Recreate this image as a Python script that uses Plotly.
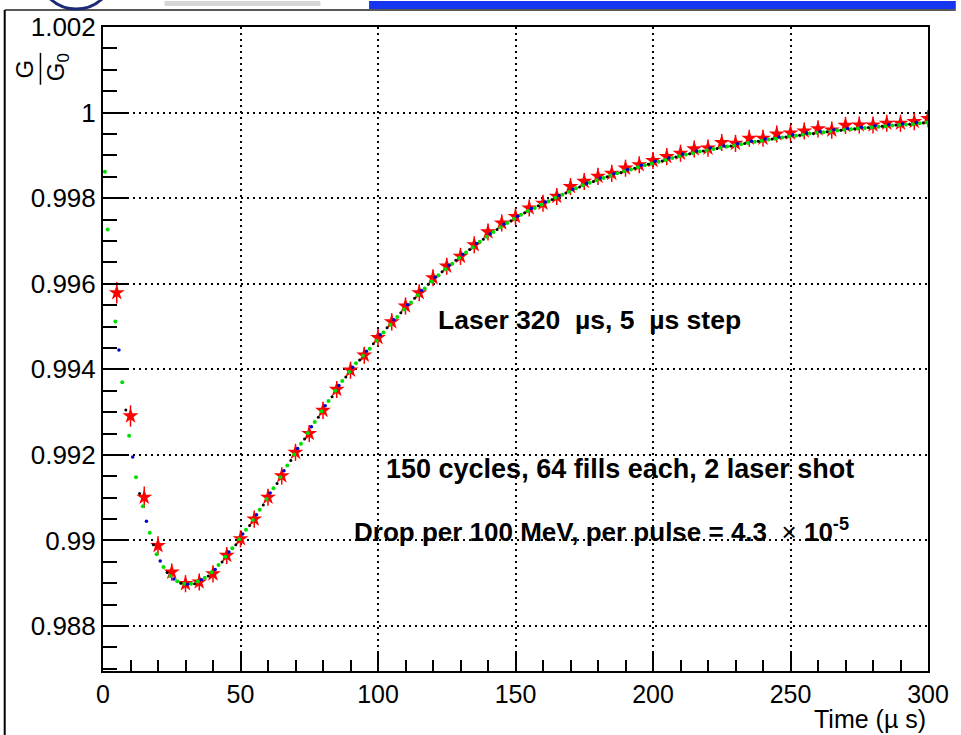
import plotly.graph_objects as go

# ---------------- data ----------------
x_ticks = [0, 50, 100, 150, 200, 250, 300]
y_tick_vals = [0.988, 0.990, 0.992, 0.994, 0.996, 0.998, 1.000, 1.002]
y_tick_text = ["0.988", "0.99", "0.992", "0.994", "0.996", "0.998", "1", "1.002"]

# red stars: laser 320 us, 5 us step (t = 5, 10, ..., 300)
star_t = [5, 10, 15, 20, 25, 30, 35, 40, 45, 50, 55, 60, 65, 70, 75, 80, 85, 90, 95, 100,
          105, 110, 115, 120, 125, 130, 135, 140, 145, 150, 155, 160, 165, 170, 175, 180,
          185, 190, 195, 200, 205, 210, 215, 220, 225, 230, 235, 240, 245, 250, 255, 260,
          265, 270, 275, 280, 285, 290, 295, 300]
star_g = [0.99579, 0.99291, 0.99101, 0.98988, 0.98926, 0.98899, 0.98903, 0.98922, 0.98965, 0.99004,
          0.99050, 0.99101, 0.99151, 0.99206, 0.99250, 0.99304, 0.99353, 0.99398, 0.99433, 0.99474,
          0.99511, 0.99548, 0.99579, 0.99614, 0.99641, 0.99664, 0.99691, 0.99721, 0.99742, 0.99757,
          0.99777, 0.99788, 0.99804, 0.99827, 0.99839, 0.99851, 0.99858, 0.99870, 0.99878, 0.99888,
          0.99897, 0.99905, 0.99915, 0.99917, 0.99930, 0.99928, 0.99940, 0.99940, 0.99950, 0.99952,
          0.99957, 0.99962, 0.99959, 0.99970, 0.99971, 0.99971, 0.99975, 0.99975, 0.99979, 0.99986]
star_err = [0.00025, 0.00025, 0.00025, 0.00022, 0.00020, 0.00020, 0.00020, 0.00020, 0.00020, 0.00020,
            0.00020, 0.00020, 0.00020, 0.00020, 0.00020, 0.00020, 0.00020, 0.00020, 0.00020, 0.00020,
            0.00020, 0.00020, 0.00020, 0.00020, 0.00020, 0.00020, 0.00020, 0.00020, 0.00020, 0.00020,
            0.00020, 0.00020, 0.00020, 0.00020, 0.00020, 0.00020, 0.00020, 0.00020, 0.00020, 0.00020,
            0.00020, 0.00020, 0.00020, 0.00020, 0.00020, 0.00020, 0.00020, 0.00020, 0.00020, 0.00020,
            0.00020, 0.00020, 0.00020, 0.00020, 0.00020, 0.00020, 0.00020, 0.00020, 0.00020, 0.00020]

# green dots
green_t = [0.7, 1.7, 4.5, 7.0, 9.5, 12.0, 14.5, 17.0, 19.5, 22.0, 24.5, 27.0, 29.5, 32.0, 34.5,
           37.0, 39.5, 42.0, 44.5, 47.0, 49.5, 52.0, 54.5, 57.0, 59.5, 62.0, 64.5, 67.0, 69.5,
           72.0, 74.5, 77.0, 79.5, 82.0, 84.5, 87.0, 89.5, 92.0, 94.5, 97.0, 99.5, 102.0, 104.5,
           107.0, 109.5, 112.0, 114.5, 117.0, 119.5, 122.0, 124.5, 127.0, 129.5, 132.0, 134.5,
           137.0, 139.5, 142.0, 144.5, 147.0, 149.5, 152.0, 154.5, 157.0, 159.5, 162.0, 164.5,
           167.0, 169.5, 172.0, 174.5, 177.0, 179.5, 182.0, 184.5, 187.0, 189.5, 192.0, 194.5,
           197.0, 199.5, 202.0, 204.5, 207.0, 209.5, 212.0, 214.5, 217.0, 219.5, 222.0, 224.5,
           227.0, 229.5, 232.0, 234.5, 237.0, 239.5, 242.0, 244.5, 247.0, 249.5, 252.0, 254.5,
           257.0, 259.5, 262.0, 264.5, 267.0, 269.5, 272.0, 274.5, 277.0, 279.5, 282.0, 284.5,
           287.0, 289.5, 292.0, 294.5, 297.0, 299.5]
green_g = [0.99862, 0.99727, 0.99512, 0.99370, 0.99245, 0.99148, 0.99080, 0.99018, 0.98968, 0.98938,
           0.98917, 0.98905, 0.98899, 0.98899, 0.98904, 0.98913, 0.98926, 0.98943, 0.98962, 0.98982,
           0.99003, 0.99025, 0.99048, 0.99072, 0.99097, 0.99122, 0.99148, 0.99175, 0.99201, 0.99226,
           0.99251, 0.99277, 0.99302, 0.99326, 0.99350, 0.99373, 0.99394, 0.99414, 0.99432, 0.99448,
           0.99467, 0.99486, 0.99504, 0.99522, 0.99540, 0.99556, 0.99573, 0.99589, 0.99605, 0.99620,
           0.99634, 0.99647, 0.99660, 0.99673, 0.99685, 0.99698, 0.99710, 0.99721, 0.99732, 0.99742,
           0.99752, 0.99761, 0.99770, 0.99777, 0.99785, 0.99793, 0.99801, 0.99808, 0.99815, 0.99823,
           0.99830, 0.99836, 0.99842, 0.99847, 0.99853, 0.99858, 0.99863, 0.99867, 0.99872, 0.99877,
           0.99881, 0.99885, 0.99889, 0.99894, 0.99898, 0.99902, 0.99905, 0.99909, 0.99912, 0.99915,
           0.99918, 0.99921, 0.99923, 0.99926, 0.99929, 0.99932, 0.99934, 0.99937, 0.99939, 0.99942,
           0.99944, 0.99946, 0.99948, 0.99951, 0.99953, 0.99954, 0.99956, 0.99958, 0.99960, 0.99961,
           0.99963, 0.99964, 0.99966, 0.99967, 0.99968, 0.99970, 0.99971, 0.99972, 0.99973, 0.99975,
           0.99977]

# blue dots
blue_t = [5.8, 10.8, 15.8, 20.8, 25.8, 30.8, 35.8, 40.8, 45.8, 50.8, 55.8, 60.8, 65.8, 70.8, 75.8,
          80.8, 85.8, 90.8, 95.8, 100.8, 105.8, 110.8, 115.8, 120.8, 125.8, 130.8, 135.8, 140.8,
          145.8, 150.8, 155.8, 160.8, 165.8, 170.8, 175.8, 180.8, 185.8, 190.8, 195.8, 200.8,
          205.8, 210.8, 215.8, 220.8, 225.8, 230.8, 235.8, 240.8, 245.8, 250.8, 255.8, 260.8,
          265.8, 270.8, 275.8, 280.8, 285.8, 290.8, 295.8]
blue_g = [0.99445, 0.99195, 0.99045, 0.98952, 0.98910, 0.98898, 0.98908, 0.98932, 0.98973, 0.99015,
          0.99060, 0.99111, 0.99163, 0.99215, 0.99266, 0.99315, 0.99362, 0.99405, 0.99442, 0.99481,
          0.99516, 0.99551, 0.99584, 0.99615, 0.99643, 0.99669, 0.99694, 0.99717, 0.99739, 0.99758,
          0.99776, 0.99791, 0.99806, 0.99821, 0.99835, 0.99847, 0.99857, 0.99867, 0.99877, 0.99886,
          0.99894, 0.99903, 0.99910, 0.99917, 0.99922, 0.99927, 0.99933, 0.99938, 0.99943, 0.99948,
          0.99952, 0.99956, 0.99960, 0.99963, 0.99966, 0.99969, 0.99972, 0.99974, 0.99977]

# black dots
black_t = [8.3, 13.3, 18.3, 23.3, 28.3, 33.3, 38.3, 43.3, 48.3, 53.3, 58.3, 63.3, 68.3, 73.3, 78.3,
           83.3, 88.3, 93.3, 98.3, 103.3, 108.3, 113.3, 118.3, 123.3, 128.3, 133.3, 138.3, 143.3,
           148.3, 153.3, 158.3, 163.3, 168.3, 173.3, 178.3, 183.3, 188.3, 193.3, 198.3, 203.3,
           208.3, 213.3, 218.3, 223.3, 228.3, 233.3, 238.3, 243.3, 248.3, 253.3, 258.3, 263.3,
           268.3, 273.3, 278.3, 283.3, 288.3, 293.3, 298.3]
black_g = [0.99305, 0.99110, 0.98990, 0.98925, 0.98900, 0.98899, 0.98917, 0.98950, 0.98990, 0.99035,
           0.99083, 0.99133, 0.99187, 0.99237, 0.99288, 0.99336, 0.99382, 0.99422, 0.99460, 0.99497,
           0.99532, 0.99566, 0.99599, 0.99628, 0.99655, 0.99680, 0.99704, 0.99727, 0.99747, 0.99766,
           0.99782, 0.99797, 0.99812, 0.99826, 0.99839, 0.99850, 0.99860, 0.99870, 0.99879, 0.99887,
           0.99896, 0.99904, 0.99910, 0.99916, 0.99922, 0.99928, 0.99933, 0.99938, 0.99943, 0.99947,
           0.99951, 0.99955, 0.99959, 0.99962, 0.99965, 0.99968, 0.99971, 0.99973, 0.99976]

# ---------------- figure ----------------
W, H = 961, 735
L, R, T, B = 103, 27, 24, 64
PW, PH = W - L - R, H - T - B


def px(x):
    return (x - L) / PW


def py(y):
    return (H - B - y) / PH


FONT = "Liberation Sans, Arial, Helvetica, sans-serif"

fig = go.Figure()
fig.add_trace(go.Scatter(
    x=star_t, y=star_g, mode="markers",
    marker=dict(symbol="star", size=12, color="#ff0000", line=dict(width=0)),
    error_y=dict(type="data", array=star_err, color="#ff0000", thickness=1.5, width=0),
))
fig.add_trace(go.Scatter(x=green_t, y=green_g, mode="markers",
                         marker=dict(size=4, color="#00dd00", line=dict(width=0))))
fig.add_trace(go.Scatter(x=blue_t, y=blue_g, mode="markers",
                         marker=dict(size=3.5, color="#0000cc", line=dict(width=0))))
fig.add_trace(go.Scatter(x=black_t, y=black_g, mode="markers",
                         marker=dict(size=3, color="#000000", line=dict(width=0))))

fig.update_layout(
    width=W, height=H,
    margin=dict(l=L, r=R, t=T, b=B, pad=0),
    paper_bgcolor="white", plot_bgcolor="white",
    showlegend=False,
    font=dict(family=FONT, color="black"),
    xaxis=dict(
        range=[0, 300], tickmode="array", tickvals=x_ticks,
        ticks="inside", ticklen=20, tickwidth=2, tickcolor="black",
        minor=dict(ticks="inside", ticklen=11, tickwidth=1.5, tickcolor="black",
                   tickmode="linear", tick0=0, dtick=10, showgrid=False),
        showgrid=True, gridcolor="black", gridwidth=1.5, griddash="2px,4px",
        showline=True, linewidth=2, linecolor="black", mirror=True,
        zeroline=False, tickfont=dict(size=25, family=FONT, color="black"),
        ticklabelstandoff=0,
    ),
    yaxis=dict(
        range=[0.98695, 1.002], tickmode="array", tickvals=y_tick_vals, ticktext=y_tick_text,
        ticks="inside", ticklen=25, tickwidth=2, tickcolor="black",
        minor=dict(ticks="inside", ticklen=14, tickwidth=1.5, tickcolor="black",
                   tickmode="linear", tick0=0.988, dtick=0.0005, showgrid=False),
        showgrid=True, gridcolor="black", gridwidth=1.5, griddash="2px,4px",
        showline=True, linewidth=2, linecolor="black", mirror=True,
        zeroline=False, tickfont=dict(size=26, family=FONT, color="black"),
        ticklabelstandoff=0,
    ),
)


def note(x, y, text, size, xanchor="center", angle=0):
    return dict(x=px(x), y=py(y), xref="paper", yref="paper", showarrow=False,
                xanchor=xanchor, yanchor="middle", textangle=angle, text=text,
                font=dict(size=size, family=FONT, color="black"))


ann = [
    note(593, 318, "<b>Laser 320  µs, 5  µs step</b>", 26.5),
    note(624, 468, "<b>150 cycles, 64 fills each, 2 laser shot</b>", 27),
    note(605, 530, "<b>Drop per 100 MeV, per pulse = 4.3 </b> × <b>10<sup>-5</sup></b>", 26),
    note(934, 719, "Time (µ s)", 25, xanchor="right"),
    note(24, 66, "G", 24, angle=-90),
    note(57, 64, "G<sub>0</sub>", 24, angle=-90),
]
fig.update_layout(annotations=ann)

shapes = []
# fraction bar
shapes.append(dict(type="line", xref="paper", yref="paper", x0=px(40), x1=px(40),
                   y0=py(50), y1=py(82), line=dict(color="black", width=1.5)))
# slide frame
shapes.append(dict(type="line", xref="paper", yref="paper", x0=px(4), x1=px(4),
                   y0=py(7), y1=py(736), line=dict(color="black", width=2)))
shapes.append(dict(type="line", xref="paper", yref="paper", x0=px(4), x1=px(962),
                   y0=py(7), y1=py(7), line=dict(color="#222222", width=1.5)))
# header blue bar
shapes.append(dict(type="rect", xref="paper", yref="paper", x0=px(371), x1=px(962),
                   y0=py(6), y1=py(-2), fillcolor="#1436f0", line=dict(width=0)))
# partial logo arc and faint header text
shapes.append(dict(type="circle", xref="paper", yref="paper", x0=px(40), x1=px(112),
                   y0=py(6), y1=py(-60), line=dict(color="#1c2a78", width=3)))
shapes.append(dict(type="rect", xref="paper", yref="paper", x0=px(165), x1=px(322),
                   y0=py(3), y1=py(-2), fillcolor="#d6d6d6", line=dict(width=0)))
fig.update_layout(shapes=shapes)

fig.write_html("out.html")
